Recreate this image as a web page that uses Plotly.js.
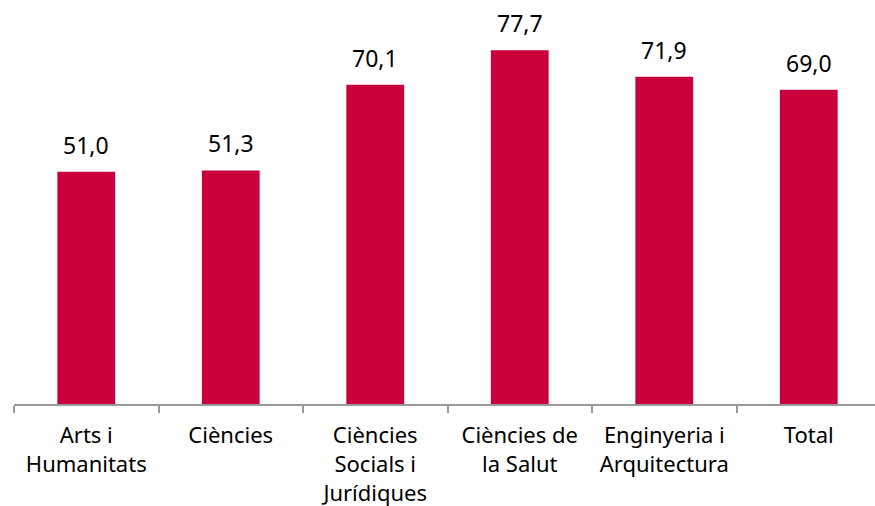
<!DOCTYPE html>
<html><head><meta charset="utf-8">
<script src="https://cdn.plot.ly/plotly-3.0.1.min.js"></script>
<style>html,body{margin:0;padding:0;overflow:hidden;background:#fff}#c{width:882px;height:506px}</style>
</head><body><div id="c"></div>
<script>
const categories = ["Arts i<br>Humanitats","Ciències","Ciències<br>Socials i<br>Jurídiques","Ciències de<br>la Salut","Enginyeria i<br>Arquitectura","Total"];
const values = [51.0, 51.3, 70.1, 77.7, 71.9, 69.0];
const barColor = "#CA003D";
const fontFam = "Noto Sans, sans-serif";
const annotations = categories.map((c,i)=>({
  x: c, y: values[i], xref:'x', yref:'y', text: values[i].toFixed(1).replace('.',','),
  showarrow:false, yanchor:'bottom', yshift:9, font:{family:fontFam,size:23,color:'#000'}
}));
Plotly.newPlot('c',[{
  type:'bar', x:categories, y:values, marker:{color:barColor}, width:0.4, hoverinfo:'none'
}],{
  width:882, height:506,
  margin:{l:14,r:1,t:17,b:102},
  paper_bgcolor:'#fff', plot_bgcolor:'#fff',
  showlegend:false,
  xaxis:{type:'category', automargin:false, showline:true, linecolor:'#999', linewidth:2, ticks:'outside', tickson:'boundaries', ticklen:7, tickcolor:'#999', tickwidth:2, ticklabelstandoff:11, tickfont:{family:fontFam,size:22,color:'#000'}, showgrid:false, fixedrange:true},
  yaxis:{range:[0,85], visible:false, showgrid:false, zeroline:false, fixedrange:true},
  annotations: annotations
},{staticPlot:true});
</script></body></html>
